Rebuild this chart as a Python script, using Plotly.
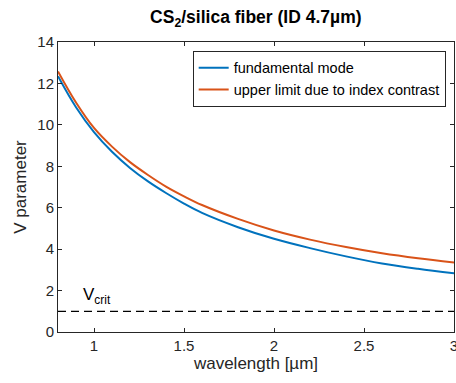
import plotly.graph_objects as go

wavelength = [0.8, 0.9, 1.0, 1.1, 1.2, 1.3, 1.4, 1.5, 1.6, 1.8, 2.0, 2.2, 2.4, 2.6, 2.8, 3.0]
v_fundamental = [12.35, 10.85, 9.65, 8.70, 7.92, 7.27, 6.71, 6.20, 5.75, 5.06, 4.50, 4.05, 3.65, 3.31, 3.05, 2.83]
v_upper = [12.58, 11.08, 9.85, 8.95, 8.20, 7.58, 7.02, 6.55, 6.13, 5.46, 4.90, 4.46, 4.10, 3.80, 3.56, 3.36]
v_crit_x = [0.8, 3.0]
v_crit_y = [1.0, 1.0]
x_ticks = [1, 1.5, 2, 2.5, 3]
y_ticks = [0, 2, 4, 6, 8, 10, 12, 14]

font = "Liberation Sans, Arial, sans-serif"
axcol = "#262626"

fig = go.Figure()
fig.add_trace(go.Scatter(x=wavelength, y=v_fundamental, mode="lines", name="fundamental mode",
                         line=dict(color="#0072BD", width=2, shape="spline")))
fig.add_trace(go.Scatter(x=wavelength, y=v_upper, mode="lines", name="upper limit due to index contrast",
                         line=dict(color="#D95319", width=2, shape="spline")))
fig.add_trace(go.Scatter(x=v_crit_x, y=v_crit_y, mode="lines", showlegend=False,
                         line=dict(color="black", width=1.2, dash="8px,5px")))

fig.add_annotation(x=0.925, y=1.75, xref="x", yref="y", text="V<sub>crit</sub>", showarrow=False,
                   xanchor="left", yanchor="middle", font=dict(family=font, size=17, color="black"))

axis_common = dict(showgrid=False, zeroline=False, showline=True, linecolor=axcol, linewidth=1,
                   mirror="ticks", ticks="inside", ticklen=4, tickcolor=axcol,
                   tickfont=dict(family=font, size=15, color=axcol), ticklabeloverflow="allow",
                   automargin=False)

fig.update_xaxes(range=[0.8, 3.0], tickvals=x_ticks, ticktext=[str(t) for t in x_ticks],
                 title=dict(text="wavelength [µm]", font=dict(family=font, size=17, color=axcol), standoff=2),
                 **axis_common)
fig.update_yaxes(range=[0, 14], tickvals=y_ticks,
                 title=dict(text="V parameter", font=dict(family=font, size=17, color=axcol), standoff=6),
                 **axis_common)

fig.update_layout(
    width=456, height=383,
    margin=dict(l=58, r=2, t=42, b=51, autoexpand=False),
    paper_bgcolor="white", plot_bgcolor="white",
    title=dict(text="<b>CS<sub>2</sub>/silica fiber (ID 4.7µm)</b>", x=0.561, xanchor="center",
               y=0.955, yanchor="middle", font=dict(family=font, size=17.5, color="black")),
    legend=dict(x=0.979, y=0.97, xanchor="right", yanchor="top", bgcolor="white",
                bordercolor=axcol, borderwidth=1, font=dict(family=font, size=14.5, color="black"),
                itemwidth=30, tracegroupgap=0),
    showlegend=True,
)

fig.write_html("out.html")
